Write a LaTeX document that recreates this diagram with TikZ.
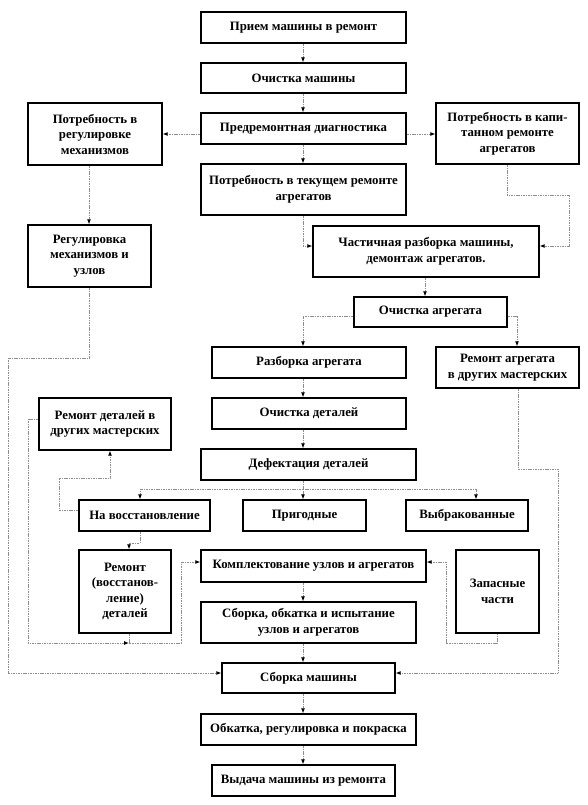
\documentclass[tikz,border=0pt]{standalone}
\usepackage{fontspec}
\setmainfont{Liberation Serif}
\usetikzlibrary{arrows.meta,calc}
\begin{document}
\begin{tikzpicture}[x=1pt,y=-1pt,
  box/.style={draw=black, line width=1.3pt, align=center, inner sep=1pt,
    font=\fontsize{12.8}{15.5}\selectfont\bfseries},
  thickbox/.style={box, line width=2.6pt},
  conn/.style={draw=gray!90, line width=0.9pt, dash pattern=on 1.1pt off 0.6pt,
    -{Latex[length=5pt,width=4pt,color=black]}},
  plain/.style={draw=gray!90, line width=0.9pt, dash pattern=on 1.1pt off 0.6pt}]
\useasboundingbox (0,0) rectangle (587,805);
\fill[white] (0,0) rectangle (587,805);
% helper coordinates
\coordinate (x303) at (303,0);
\coordinate (x425) at (425,0);
\coordinate (x517) at (517,0);
\coordinate (x140) at (140,0);
\coordinate (x476) at (476,0);
\coordinate (x110) at (110,0);
\coordinate (x129) at (129,0);
\coordinate (x497) at (497,0);
\coordinate (x518) at (518,0);
\coordinate (x89) at (89,0);
\coordinate (y246) at (0,246);
\coordinate (y316) at (0,316);
\coordinate (y510) at (0,510);
\coordinate (y419) at (0,419);
\coordinate (y562) at (0,562);
\coordinate (y673) at (0,673);
\coordinate (y134) at (0,134);
% nodes
\node[box, minimum width=205, minimum height=31] (n1) at (303.5,27.5) {Прием машины в ремонт};
\node[box, minimum width=205, minimum height=30] (n2) at (303.5,78) {Очистка машины};
\node[box, minimum width=205, minimum height=31] (n3) at (303.5,128.5) {Предремонтная диагностика};
\node[box, minimum width=134, minimum height=62] (n4) at (95,134) {Потребность в\\регулировке\\механизмов};
\node[box, minimum width=143, minimum height=61] (n5) at (507.5,133.5) {Потребность в капи-\\танном ремонте\\агрегатов};
\node[box, minimum width=205, minimum height=51] (n6) at (303.5,189.5) {Потребность в текущем ремонте\\агрегатов};
\node[box, minimum width=123, minimum height=62] (n7) at (89.5,256) {Регулировка\\механизмов и\\узлов};
\node[box, minimum width=226, minimum height=51] (n8) at (426,251.5) {Частичная разборка машины,\\демонтаж агрегатов.};
\node[box, minimum width=153, minimum height=30] (n9) at (430.5,312) {Очистка агрегата};
\node[box, minimum width=194, minimum height=31] (n10) at (309,362.5) {Разборка агрегата};
\node[box, minimum width=143, minimum height=41] (n11) at (507.5,367.5) {Ремонт агрегата\\в других мастерских};
\node[box, minimum width=194, minimum height=31] (n12) at (309,413.5) {Очистка деталей};
\node[box, minimum width=132, minimum height=52] (n13) at (105,424) {Ремонт деталей в\\других мастерских};
\node[box, minimum width=215, minimum height=31] (n14) at (308.5,464.5) {Дефектация деталей};
\node[box, minimum width=131, minimum height=31] (n15) at (144.5,515.5) {На восстановление};
\node[box, minimum width=123, minimum height=31] (n16) at (304.5,515.5) {Пригодные};
\node[box, minimum width=122, minimum height=31] (n17) at (467,515.5) {Выбракованные};
\node[box, minimum width=92, minimum height=83] (n18) at (125,591.5) {Ремонт\\(восстанов-\\ление)\\деталей};
\node[box, minimum width=225, minimum height=32] (n19) at (313.5,566) {Комплектование узлов и агрегатов};
\node[thickbox, minimum width=83, minimum height=83] (n20) at (497.5,591.5) {Запасные\\части};
\node[box, minimum width=215, minimum height=41] (n21) at (308.5,622.5) {Сборка, обкатка и испытание\\узлов и агрегатов};
\node[box, minimum width=173, minimum height=30] (n22) at (308.5,678) {Сборка машины};
\node[box, minimum width=215, minimum height=31] (n23) at (308.5,729.5) {Обкатка, регулировка и покраска};
\node[box, minimum width=183, minimum height=31] (n24) at (303.5,780.5) {Выдача машины из ремонта};
% connectors
\draw[conn] (n1.south -| x303) -- (n2.north -| x303);
\draw[conn] (n2.south -| x303) -- (n3.north -| x303);
\draw[conn] (n3.south -| x303) -- (n6.north -| x303);
\draw[conn] (n3.west |- y134) -- (n4.east |- y134);
\draw[conn] (n3.east |- y134) -- (n5.west |- y134);
\draw[conn] (n4.south -| x89) -- (n7.north -| x89);
\draw[conn] (n5.south -| 507,0) |- (569,195) |- (n8.east |- y246);
\draw[conn] (n6.south -| x303) |- (n8.west |- y246);
\draw[conn] (n8.south -| x425) -- (n9.north -| x425);
\draw[conn] (n9.west |- y316) -| (n10.north -| x303);
\draw[conn] (n9.east |- y316) -| (n11.north -| x517);
\draw[conn] (n10.south -| x303) -- (n12.north -| x303);
\draw[conn] (n12.south -| x303) -- (n14.north -| x303);
\coordinate (d1) at (303,489);
\draw[plain] (n14.south -| x303) -- (d1);
\draw[conn] (d1) -| (n15.north -| x140);
\draw[conn] (d1) -- (n16.north -| x303);
\draw[conn] (d1) -| (n17.north -| x476);
\draw[conn] (n15.west |- y510) -| (59,478) -| (n13.south -| x110);
\draw[conn] (n15.south -| x140) |- (129,543) -- (n18.north -| x129);
\coordinate (j1) at (129,643);
\draw[conn] (n13.west |- y419) -| (28,643) -- (j1);
\draw[conn] (n18.south -| x129) -- (j1) -| (181,562) -- (n19.west |- y562);
\draw[conn] (n20.south -| x497) |- (446,643) |- (n19.east |- y562);
\draw[conn] (n19.south -| x303) -- (n21.north -| x303);
\draw[conn] (n21.south -| x303) -- (n22.north -| x303);
\draw[conn] (n7.south -| x89) |- (8,358) |- (n22.west |- y673);
\draw[conn] (n11.south -| x518) |- (558,469) |- (n22.east |- y673);
\draw[conn] (n22.south -| x303) -- (n23.north -| x303);
\draw[conn] (n23.south -| x303) -- (n24.north -| x303);
\end{tikzpicture}
\end{document}
